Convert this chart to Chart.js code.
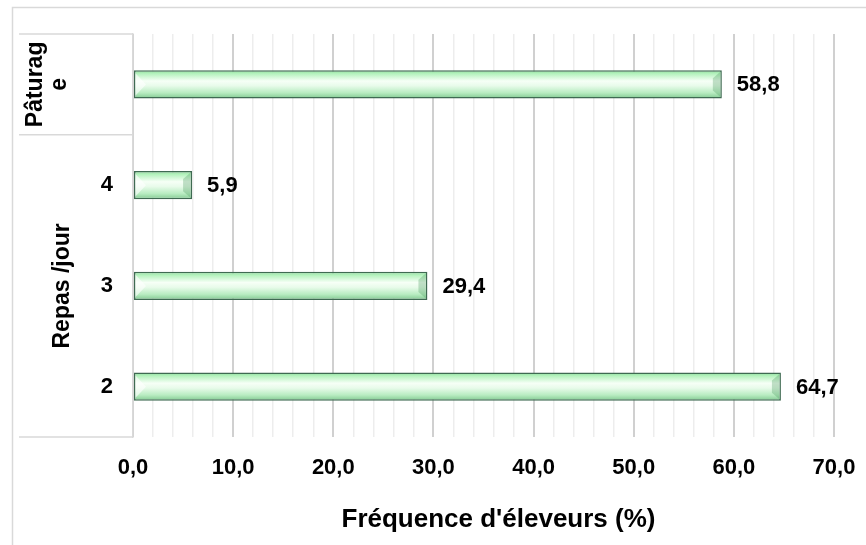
<!DOCTYPE html>
<html>
<head>
<meta charset="utf-8">
<script src="https://cdn.jsdelivr.net/npm/chart.js@4.4.1/dist/chart.umd.min.js"></script>
<style>
  html, body { margin: 0; padding: 0; background: #ffffff; }
  #wrap { position: relative; width: 866px; height: 545px; }
</style>
</head>
<body>
<div id="wrap"><canvas id="c" width="866" height="545"></canvas></div>
<script>
// ---- Data ----
const categories = ['Pâturage', '4', '3', '2'];
const tickLabels = ['', '4', '3', '2'];
const values = [58.8, 5.9, 29.4, 64.7];
const groupNames = [['Pâturag', 'e'], ['Repas /jour']];
const groupFirst = [0, 1];
const groupLast = [0, 3];
const axisTitle = "Fréquence d'éleveurs (%)";
const xMin = 0, xMax = 70, xStep = 2, xMajor = 10;

const FONT = "'Liberation Sans', Arial, sans-serif";
const fmt = v => v.toFixed(1).replace('.', ',');

const decorPlugin = {
  id: 'decor',
  beforeDatasetsDraw(chart) {
    const ctx = chart.ctx;
    const meta = chart.getDatasetMeta(0);
    meta.data.forEach(el => {
      const top = el.y - el.height / 2, bot = el.y + el.height / 2;
      const g = ctx.createLinearGradient(0, top, 0, bot);
      g.addColorStop(0.00, '#8fdc9c');
      g.addColorStop(0.12, '#b4f2bd');
      g.addColorStop(0.38, '#f6fff6');
      g.addColorStop(0.55, '#e8fbea');
      g.addColorStop(0.80, '#b8ecc1');
      g.addColorStop(1.00, '#80c990');
      el.options = Object.assign({}, el.options, { backgroundColor: g });
    });
  },
  afterDatasetsDraw(chart) {
    const ctx = chart.ctx;
    const meta = chart.getDatasetMeta(0);
    ctx.save();
    meta.data.forEach((el, i) => {
      const top = el.y - el.height / 2, bot = el.y + el.height / 2;
      const left = el.base, right = el.x;
      const b = 9;
      ctx.fillStyle = 'rgba(255,255,255,0.6)';
      ctx.beginPath();
      ctx.moveTo(left + 1.5, top + 3);
      ctx.lineTo(left + b + 3, el.y);
      ctx.lineTo(left + 1.5, bot - 3);
      ctx.closePath();
      ctx.fill();
      ctx.fillStyle = 'rgba(70,150,90,0.3)';
      ctx.beginPath();
      ctx.moveTo(right - 1.5, top + 1.5);
      ctx.lineTo(right - b, top + 8);
      ctx.lineTo(right - b, bot - 8);
      ctx.lineTo(right - 1.5, bot - 1.5);
      ctx.closePath();
      ctx.fill();
      ctx.fillStyle = '#000';
      ctx.font = 'bold 22px ' + FONT;
      ctx.textAlign = 'left';
      ctx.textBaseline = 'middle';
      ctx.fillText(fmt(values[i]), right + 15, el.y + 1);
    });
    ctx.restore();
  },
  afterDraw(chart) {
    const ctx = chart.ctx;
    const ca = chart.chartArea;
    const ys = chart.scales.y;
    const half = (ys.getPixelForTick(1) - ys.getPixelForTick(0)) / 2;
    ctx.save();
    ctx.strokeStyle = '#d9d9d9';
    ctx.lineWidth = 1.5;
    ctx.beginPath();
    ctx.moveTo(866, 7.5); ctx.lineTo(12.5, 7.5); ctx.lineTo(12.5, 545);
    ctx.stroke();
    const lineYs = [ca.top];
    groupLast.forEach(l => lineYs.push(ys.getPixelForTick(l) + half));
    ctx.beginPath();
    lineYs.forEach(y => { ctx.moveTo(19, y); ctx.lineTo(ca.left, y); });
    ctx.stroke();
    ctx.fillStyle = '#000';
    ctx.font = 'bold 23px ' + FONT;
    ctx.textAlign = 'center';
    ctx.textBaseline = 'middle';
    groupNames.forEach((lines, gi) => {
      const yTop = ys.getPixelForTick(groupFirst[gi]) - half;
      const yBot = ys.getPixelForTick(groupLast[gi]) + half;
      const cy = (yTop + yBot) / 2;
      const cx = gi === 0 ? 48 : 63;
      ctx.save();
      ctx.translate(cx, cy);
      ctx.rotate(-Math.PI / 2);
      const lh = 24;
      lines.forEach((t, li) => {
        ctx.fillText(t, 0, (li - (lines.length - 1) / 2) * lh);
      });
      ctx.restore();
    });
    ctx.font = 'bold 26px ' + FONT;
    ctx.textAlign = 'center';
    ctx.textBaseline = 'middle';
    ctx.fillText(axisTitle, (ca.left + ca.right) / 2 + 15, 520);
    ctx.restore();
  }
};

new Chart(document.getElementById('c'), {
  type: 'bar',
  data: {
    labels: tickLabels,
    datasets: [{
      data: values,
      backgroundColor: '#bdf0c4',
      borderColor: '#3f6a52',
      borderWidth: 1.5,
      borderSkipped: false,
      categoryPercentage: 1,
      barPercentage: 0.28
    }]
  },
  options: {
    indexAxis: 'y',
    responsive: false,
    animation: false,
    devicePixelRatio: 1,
    layout: { padding: { top: 34, right: 32, left: 0, bottom: 0 } },
    plugins: { legend: { display: false }, tooltip: { enabled: false }, title: { display: false } },
    scales: {
      x: {
        type: 'linear',
        min: xMin, max: xMax,
        afterFit: s => { s.height = 108; s.paddingLeft = 0; s.paddingRight = 0; },
        afterBuildTicks: s => {
          const t = [];
          for (let v = xMin; v <= xMax + 1e-9; v += xStep) t.push({ value: v });
          s.ticks = t;
        },
        ticks: {
          autoSkip: false,
          maxRotation: 0,
          padding: 18,
          color: '#000',
          font: { family: FONT, size: 22, weight: 'bold' },
          callback: v => (Math.abs(v % xMajor) < 1e-9 ? fmt(v) : '')
        },
        grid: {
          drawTicks: false,
          color: c => (Math.abs(c.tick.value % xMajor) < 1e-9 ? '#d0d0d0' : '#ededed'),
          lineWidth: c => (Math.abs(c.tick.value % xMajor) < 1e-9 ? 2 : 1.5)
        },
        border: { display: false }
      },
      y: {
        type: 'category',
        afterFit: s => { s.width = 133; s.paddingTop = 0; s.paddingBottom = 0; },
        ticks: {
          padding: 20,
          color: '#000',
          font: { family: FONT, size: 22, weight: 'bold' }
        },
        grid: { display: false, drawTicks: false },
        border: { display: true, color: '#d9d9d9', width: 1.5 }
      }
    }
  },
  plugins: [decorPlugin]
});
</script>
</body>
</html>
